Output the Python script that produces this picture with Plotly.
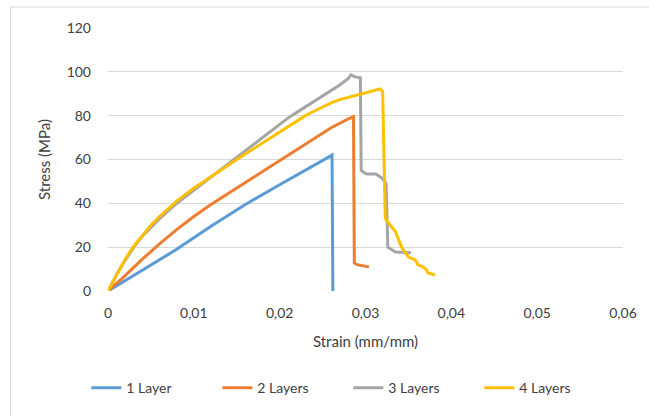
import plotly.graph_objects as go

# Data
strain_1 = [0, 0.004, 0.008, 0.012, 0.016, 0.020, 0.024, 0.0261, 0.0262]
stress_1 = [0, 9.5, 19, 29.5, 39.5, 48.5, 57.5, 62, 0]

strain_2 = [0, 0.002, 0.004, 0.006, 0.008, 0.010, 0.012, 0.014, 0.016, 0.018,
            0.020, 0.022, 0.024, 0.026, 0.028, 0.0286, 0.0287, 0.0290, 0.0304]
stress_2 = [0, 7, 14.5, 21.5, 28, 34, 39.5, 44.5, 49.5, 54.5,
            59.5, 64.5, 69.5, 74.5, 78.5, 79.5, 12.8, 12, 11]

strain_3 = [0, 0.001, 0.002, 0.003, 0.004, 0.005, 0.006, 0.007, 0.008, 0.009,
            0.010, 0.011, 0.012, 0.013, 0.014, 0.015, 0.016, 0.017, 0.018, 0.019,
            0.020, 0.021, 0.022, 0.023, 0.024, 0.025, 0.026, 0.027, 0.028,
            0.0283, 0.0288, 0.0294, 0.0295, 0.0301, 0.0312, 0.0319, 0.0324,
            0.0326, 0.0335, 0.0353]
stress_3 = [0, 7.5, 14, 20, 25, 29, 33, 36.5, 40, 43,
            46, 49, 52, 55, 58, 61, 64, 67, 70, 73,
            76, 79, 81.5, 84, 86.5, 89, 91.5, 94, 97,
            98.6, 97.7, 97.3, 55, 53.4, 53.4, 51.6, 49,
            20, 17.8, 17.4]

strain_4 = [0, 0.001, 0.002, 0.003, 0.004, 0.005, 0.006, 0.007, 0.008, 0.009,
            0.010, 0.011, 0.012, 0.013, 0.014, 0.015, 0.016, 0.017, 0.018, 0.019,
            0.020, 0.021, 0.022, 0.023, 0.024, 0.025, 0.026, 0.027, 0.028, 0.029,
            0.030, 0.031, 0.0317, 0.032, 0.0322, 0.0323, 0.0324, 0.0335,
            0.0342, 0.035, 0.0358, 0.0361, 0.0367, 0.0371, 0.0373, 0.0381]
stress_4 = [0, 7.5, 14.5, 20.5, 25.5, 30, 34, 37.5, 41, 44,
            47, 49.5, 52.2, 55, 57.5, 60, 62.5, 65, 67.5, 70,
            72.5, 75, 77.5, 80, 82, 84, 85.8, 87.3, 88.3, 89.3,
            90.3, 91.3, 92.2, 91, 60, 33.8, 32.4, 27,
            20, 15.5, 14.2, 11.9, 11, 9.6, 8.2, 7.3]

names = ["1 Layer", "2 Layers", "3 Layers", "4 Layers"]
colors = ["#5B9BD5", "#ED7D31", "#A5A5A5", "#FFC000"]

x_ticks = [0, 0.01, 0.02, 0.03, 0.04, 0.05, 0.06]
x_tick_labels = ["0", "0,01", "0,02", "0,03", "0,04", "0,05", "0,06"]
y_ticks = [0, 20, 40, 60, 80, 100, 120]

series = [(strain_1, stress_1), (strain_2, stress_2), (strain_3, stress_3), (strain_4, stress_4)]

fig = go.Figure()
for (xs, ys), name, color in zip(series, names, colors):
    fig.add_trace(go.Scatter(x=xs, y=ys, mode="lines", name=name,
                             line=dict(color=color, width=3)))

font_family = "Lato, 'Open Sans', sans-serif"
fig.update_layout(
    width=649, height=416,
    margin=dict(l=108, r=23, t=28, b=125),
    paper_bgcolor="white", plot_bgcolor="white",
    font=dict(family=font_family, size=14, color="#404040"),
    showlegend=True,
    legend=dict(orientation="h", x=-0.042, xanchor="left", y=-0.369, yanchor="middle",
                font=dict(size=14, color="#404040"),
                entrywidthmode="pixels", entrywidth=86, tracegroupgap=0),
    xaxis=dict(range=[0, 0.06], tickvals=x_ticks, ticktext=x_tick_labels,
               showgrid=False, zeroline=False, showline=False, ticks="",
               ticklabelstandoff=12,
               title=dict(text="Strain (mm/mm)", font=dict(size=15, color="#404040"), standoff=16),
               fixedrange=True),
    yaxis=dict(range=[0, 120], tickvals=y_ticks, showgrid=True, gridcolor="#D9D9D9",
               gridwidth=1, zeroline=False, showline=False, ticks="", ticklabelstandoff=16,
               title=dict(text="Stress (MPa)", font=dict(size=15, color="#404040"), standoff=12),
               fixedrange=True),
    shapes=[dict(type="rect", xref="paper", yref="paper",
                 x0=-98/518, x1=1.1, y0=-0.6, y1=1 + 21/263,
                 line=dict(color="#D9D9D9", width=1), fillcolor="rgba(0,0,0,0)",
                 layer="below")],
)

fig.write_html("out.html")
